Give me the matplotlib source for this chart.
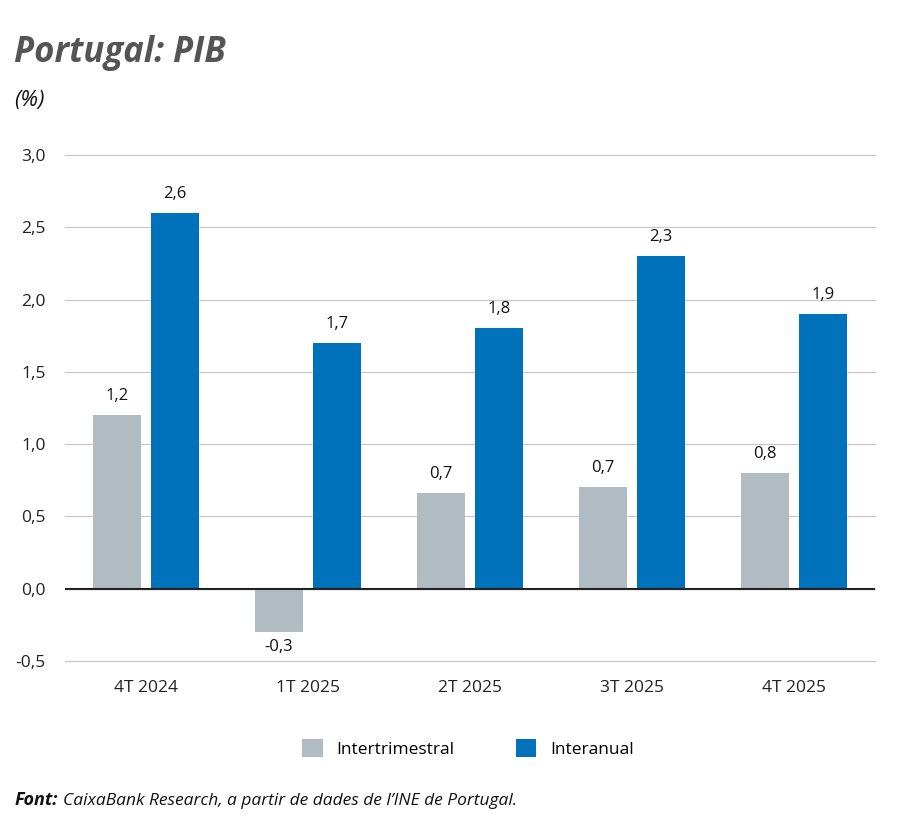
import numpy as np
import matplotlib.pyplot as plt

# data
quarters = ["4T 2024", "1T 2025", "2T 2025", "3T 2025", "4T 2025"]
intertrimestral = [1.2, -0.3, 0.66, 0.7, 0.8]
interanual = [2.6, 1.7, 1.8, 2.3, 1.9]
yticks = [-0.5, 0.0, 0.5, 1.0, 1.5, 2.0, 2.5, 3.0]

grey = "#b0bcc2"
blue = "#0071bb"

plt.rcParams['font.family'] = ['Open Sans', 'DejaVu Sans']

fig = plt.figure(figsize=(9, 8.35), dpi=100)
ax = fig.add_axes([0.0722, 0.2084, 0.9, 0.606])

x = np.arange(len(quarters))
w = 0.3
off = 0.18
b1 = ax.bar(x - off, intertrimestral, w, color=grey, label="Intertrimestral", zorder=3)
b2 = ax.bar(x + off, interanual, w, color=blue, label="Interanual", zorder=3)

def fmt(v):
    return f"{v:.1f}".replace(".", ",")

for bars, vals in [(b1, intertrimestral), (b2, interanual)]:
    for r, v in zip(bars, vals):
        cx = r.get_x() + r.get_width() / 2
        if v >= 0:
            ax.annotate(fmt(v), (cx, v), xytext=(0, 8), textcoords="offset points",
                        ha="center", va="bottom", fontsize=12, color="#111111")
        else:
            ax.annotate(fmt(v), (cx, v), xytext=(0, -5), textcoords="offset points",
                        ha="center", va="top", fontsize=12, color="#111111")

ax.set_xlim(-0.5, 4.5)
ax.set_ylim(-0.5, 3.0)
ax.set_yticks(yticks)
ax.set_yticklabels([fmt(t) for t in yticks])
ax.set_xticks(x)
ax.set_xticklabels(quarters)
ax.tick_params(axis="y", length=0, pad=14, labelsize=12.5, labelcolor="#222222")
ax.tick_params(axis="x", length=0, pad=14, labelsize=12.5, labelcolor="#222222")
ax.grid(axis="y", color="#c8c8c8", linewidth=0.9, zorder=0)
for gl in ax.get_ygridlines():
    gl.set_clip_on(False)
ax.axhline(0, color="#222222", linewidth=1.5, zorder=4)
for s in ax.spines.values():
    s.set_visible(False)

fig.text(0.016, 0.937, "Portugal: PIB", fontsize=25, fontweight="bold", fontstyle="italic",
         color="#555555", va="center")
fig.text(0.016, 0.880, "(%)", fontsize=16, fontstyle="italic", color="#111111", va="center")

fig.legend(handles=[b1, b2], loc="center", bbox_to_anchor=(0.52, 0.104), ncol=2,
           frameon=False, fontsize=12.5, handlelength=1.2, handleheight=1.2,
           columnspacing=3.5, handletextpad=0.8)

t1 = fig.text(0.016, 0.036, "Font:", fontsize=13, fontweight="bold", fontstyle="italic",
              va="baseline", color="#111111")
ax.annotate("CaixaBank Research, a partir de dades de l\u2019INE de Portugal.",
            xy=(1, 0), xycoords=t1, xytext=(4, 0), textcoords="offset points",
            fontsize=12.5, fontstyle="italic", va="bottom", ha="left", color="#111111",
            annotation_clip=False)

fig.savefig("out.png", dpi=100)
